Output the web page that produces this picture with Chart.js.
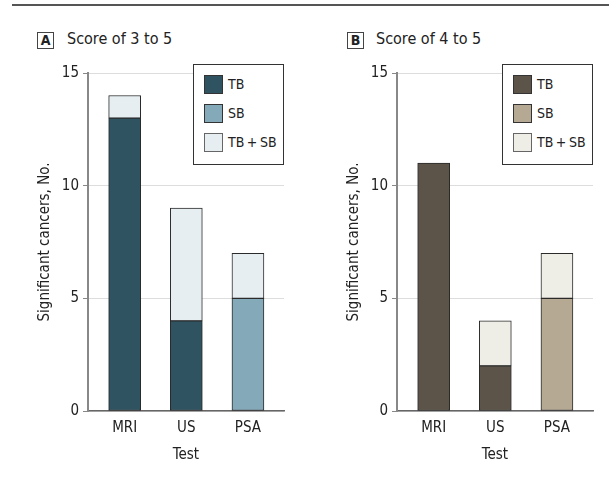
<!DOCTYPE html>
<html>
<head>
<meta charset="utf-8">
<script src="https://cdn.jsdelivr.net/npm/chart.js@4.4.0/dist/chart.umd.min.js"></script>
<style>
  html, body { margin: 0; padding: 0; background: #fff; }
  body { width: 609px; height: 481px; position: relative; overflow: hidden;
         font-family: "DejaVu Sans Condensed", "Noto Sans", sans-serif; color: #222; }
  .rule { position: absolute; left: 12px; top: 4px; width: 597px; height: 1.5px; background: #555; }
  .plab { position: absolute; width: 15px; height: 15px; border: 1px solid #444; font-weight: bold;
          font-size: 14px; line-height: 15px; text-align: center; }
  .ptitle { position: absolute; font-size: 16px; line-height: 18px; white-space: nowrap; }
  .cv { position: absolute; }
  .legend { position: absolute; border: 1px solid #333; background: #fff; width: 89px; height: 99px; }
  .sw { position: absolute; left: 10px; width: 17px; height: 17px; border: 1px solid #333; }
  .lt { position: absolute; left: 34px; font-size: 14px; line-height: 19px; white-space: nowrap; }
</style>
</head>
<body>
<div class="rule"></div>
<div id="labA" class="plab" style="left:37px; top:32px;">A</div>
<div id="titA" class="ptitle" style="left:67px; top:30px;"></div>
<div id="labB" class="plab" style="left:347px; top:32px;">B</div>
<div id="titB" class="ptitle" style="left:376px; top:30px;"></div>
<canvas id="cA" class="cv" width="300" height="431" style="left:0px; top:50px;"></canvas>
<canvas id="cB" class="cv" width="300" height="431" style="left:309px; top:50px;"></canvas>
<div id="legA" class="legend" style="left:193px; top:64px;"></div>
<div id="legB" class="legend" style="left:502px; top:64px;"></div>
<script>
// ---- data ----
const categories = ["MRI", "US", "PSA"];
const seriesNames = ["TB", "SB", "TB\u2009+\u2009SB"];
const panelLabels = ["A", "B"];
const panelTitles = ["Score of 3 to 5", "Score of 4 to 5"];
const yTicks = [0, 5, 10, 15];
const xAxisTitle = "Test";
const yAxisTitle = "Significant cancers, No.";
// Panel A (score 3 to 5)
const scoreA_TB   = [13, 4, null];
const scoreA_SB   = [null, null, 5];
const scoreA_TBSB = [1, 5, 2];
// Panel B (score 4 to 5)
const scoreB_TB   = [11, 2, null];
const scoreB_SB   = [null, null, 5];
const scoreB_TBSB = [null, 2, 2];

const colorsA = ["#2f5361", "#84a9b8", "#e7eef2"];
const colorsB = ["#5c5449", "#b5a994", "#eeede6"];

const FONT = '"DejaVu Sans Condensed", "Noto Sans", sans-serif';
Chart.defaults.font.family = FONT;
Chart.defaults.color = "#222";

document.getElementById("titA").textContent = panelTitles[0];
document.getElementById("titB").textContent = panelTitles[1];

function buildLegend(id, colors) {
  const el = document.getElementById(id);
  const tops = [10, 39, 68];
  seriesNames.forEach((n, i) => {
    const sw = document.createElement("div");
    sw.className = "sw"; sw.style.top = tops[i] + "px"; sw.style.background = colors[i];
    if (i === 2) sw.style.borderColor = "#666";
    el.appendChild(sw);
    const t = document.createElement("div");
    t.className = "lt"; t.style.top = tops[i] + "px"; t.textContent = n;
    el.appendChild(t);
  });
}
buildLegend("legA", colorsA);
buildLegend("legB", colorsB);

function makeChart(id, series, colors) {
  const datasets = series.map((d, i) => ({
    label: seriesNames[i],
    data: d,
    backgroundColor: colors[i],
    borderColor: "#2a2a2a",
    borderWidth: 1,
    barThickness: 32,
    borderSkipped: false
  }));
  return new Chart(document.getElementById(id), {
    type: "bar",
    data: { labels: categories, datasets },
    options: {
      responsive: false,
      animation: false,
      devicePixelRatio: 1,
      layout: { padding: { left: 0, right: 16, top: 23, bottom: 17 } },
      plugins: { legend: { display: false }, tooltip: { enabled: false } },
      scales: {
        x: {
          stacked: true,
          grid: { display: false, drawTicks: false },
          border: { display: true, color: "#666", width: 1.5 },
          ticks: { font: { size: 15 }, color: "#222", padding: 8 },
          title: { display: true, text: xAxisTitle, font: { size: 15 }, color: "#222", padding: { top: 4, bottom: 0 } },
          afterFit: s => { s.height = 53; },
          afterBuildTicks: s => { s._startValue = -0.595; s._valueRange = 3.18; }
        },
        y: {
          stacked: true,
          min: 0, max: 15,
          afterBuildTicks: s => { s.ticks = yTicks.map(v => ({ value: v })); },
          grid: { color: "#dddddd", lineWidth: 1, tickLength: 5, tickColor: "#888", drawTicks: true },
          border: { display: true, color: "#888", width: 2 },
          ticks: { font: { size: 15 }, color: "#222", padding: 4 },
          title: { display: true, text: yAxisTitle, font: { size: 15 }, color: "#222", padding: { top: 36, bottom: 0 } },
          afterFit: s => { s.width = 88; }
        }
      }
    }
  });
}

makeChart("cA", [scoreA_TB, scoreA_SB, scoreA_TBSB], colorsA);
makeChart("cB", [scoreB_TB, scoreB_SB, scoreB_TBSB], colorsB);
</script>
</body>
</html>
